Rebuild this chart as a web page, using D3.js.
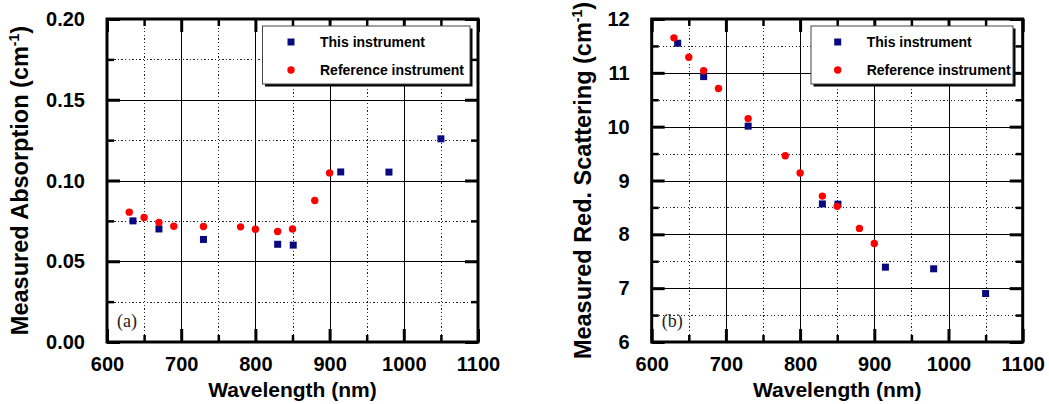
<!DOCTYPE html>
<html>
<head>
<meta charset="utf-8">
<script src="https://cdn.jsdelivr.net/npm/d3@7"></script>
<style>
  html, body { margin: 0; padding: 0; background: #fff; }
  svg { display: block; }
  .lbl { font-family: "Liberation Sans", Arial, sans-serif; font-weight: bold; fill: #000; }
</style>
</head>
<body>
<svg id="chart" width="1049" height="404"></svg>
<script>
// Wavelengths (nm) measured by each instrument
const waveThis = [635, 670, 730, 830, 851, 915, 980, 1050];
const waveRef  = [630, 650, 670, 690, 730, 780, 800, 830, 850, 880, 900];

// (a) absorption coefficient, cm^-1
const absThis = [0.075, 0.070, 0.0635, 0.0605, 0.060, 0.1053, 0.1052, 0.1258];
const absRef  = [0.0804, 0.0771, 0.0740, 0.0717, 0.0715, 0.0713, 0.0698, 0.0684, 0.0700, 0.0876, 0.1047];

// (b) reduced scattering coefficient, cm^-1
const scatThis = [11.55, 10.93, 10.01, 8.565, 8.56, 7.39, 7.36, 6.90];
const scatRef  = [11.65, 11.29, 11.04, 10.71, 10.15, 9.46, 9.14, 8.71, 8.52, 8.11, 7.83];

// Axis ticks
const xMajor = [600, 700, 800, 900, 1000, 1100];
const xMinor = [650, 750, 850, 950, 1050];
const absMajor = [0.00, 0.05, 0.10, 0.15, 0.20];
const absMinor = [0.025, 0.075, 0.125, 0.175];
const scatMajor = [6, 7, 8, 9, 10, 11, 12];
const scatMinor = [6.5, 7.5, 8.5, 9.5, 10.5, 11.5];

const seriesNames = ["This instrument", "Reference instrument"];
const navy = "#0a0a80", red = "#ff0000";

const svg = d3.select("#chart");

function panel(opt) {
  const x = d3.scaleLinear().domain([600, 1100]).range([opt.left, opt.right]);
  const y = d3.scaleLinear().domain(opt.yDomain).range([342, 19]);
  const W = opt.right - opt.left, H = 342 - 19;
  const g = svg.append("g");

  // grid: solid at major ticks, dotted at minor ticks
  const grid = (axis, vals, dash, tr) => {
    const gg = g.append("g").attr("transform", tr).call(axis.tickValues(vals).tickFormat(""));
    gg.select(".domain").remove();
    gg.selectAll(".tick line").attr("stroke", dash ? "#222" : "#000")
      .attr("stroke-width", 1).attr("shape-rendering", "crispEdges")
      .attr("stroke-dasharray", dash ? "1.3,2.3" : null);
  };
  grid(d3.axisBottom(x).tickSize(-H), xMajor.slice(1, -1), false, `translate(0,342)`);
  grid(d3.axisBottom(x).tickSize(-H), xMinor, true, `translate(0,342)`);
  grid(d3.axisLeft(y).tickSize(-W), opt.yMajor.slice(1, -1), false, `translate(${opt.left},0)`);
  grid(d3.axisLeft(y).tickSize(-W), opt.yMinor, true, `translate(${opt.left},0)`);

  // inward ticks on all four sides
  const ticks = (axis, tr, len, wid) => {
    const gg = g.append("g").attr("transform", tr).call(axis.tickSize(-len));
    gg.select(".domain").remove();
    gg.selectAll(".tick line").attr("stroke", "#000").attr("stroke-width", wid);
    return gg;
  };
  const bx = ticks(d3.axisBottom(x).tickValues(xMajor).tickPadding(15).tickFormat(d3.format("d")),
    "translate(0,342)", 13, 3);
  bx.selectAll("text").attr("class", "lbl").attr("font-size", 20).attr("font-family", null);
  ticks(d3.axisBottom(x).tickValues(xMinor).tickFormat(""), "translate(0,342)", 7, 2.5);
  ticks(d3.axisTop(x).tickValues(xMajor).tickFormat(""), "translate(0,19)", 13, 3);
  ticks(d3.axisTop(x).tickValues(xMinor).tickFormat(""), "translate(0,19)", 7, 2.5);
  const ly = ticks(d3.axisLeft(y).tickValues(opt.yMajor).tickPadding(22).tickFormat(opt.fmt),
    `translate(${opt.left},0)`, 13, 3);
  ly.selectAll("text").attr("class", "lbl").attr("font-size", 20).attr("font-family", null)
    .attr("dy", "0.33em");
  ticks(d3.axisLeft(y).tickValues(opt.yMinor).tickFormat(""), `translate(${opt.left},0)`, 7, 2.5);
  ticks(d3.axisRight(y).tickValues(opt.yMajor).tickFormat(""), `translate(${opt.right},0)`, 13, 3);
  ticks(d3.axisRight(y).tickValues(opt.yMinor).tickFormat(""), `translate(${opt.right},0)`, 7, 2.5);
  g.selectAll(".tick text").filter(function () { return this.textContent === ""; }).remove();

  // frame
  g.append("rect").attr("x", opt.left).attr("y", 19).attr("width", W).attr("height", H)
    .attr("fill", "none").attr("stroke", "#000").attr("stroke-width", 3);

  // legend
  const lg = g.append("g").attr("transform", `translate(${opt.legX},26)`);
  lg.append("rect").attr("x", 2.5).attr("y", 2.5).attr("width", opt.legW).attr("height", 58)
    .attr("fill", "#000");
  lg.append("rect").attr("x", 0).attr("y", 0).attr("width", opt.legW).attr("height", 58)
    .attr("fill", "#fff").attr("stroke", "#444").attr("stroke-width", 1);
  lg.append("rect").attr("x", opt.legMark - 3.5).attr("y", 16 - 3.5).attr("width", 7).attr("height", 7)
    .attr("fill", navy);
  lg.append("circle").attr("cx", opt.legMark).attr("cy", 44).attr("r", 3.7).attr("fill", red);
  lg.selectAll("text.leg").data(seriesNames).join("text")
    .attr("class", "lbl leg").attr("font-size", 14)
    .attr("x", opt.legText).attr("y", (d, i) => 21 + i * 28).text(d => d);

  // data: this instrument (squares), reference (circles) on top
  g.append("g").selectAll("rect").data(d3.zip(waveThis, opt.thisVals)).join("rect")
    .attr("x", d => x(d[0]) - 3.5).attr("y", d => y(d[1]) - 3.5)
    .attr("width", 7).attr("height", 7).attr("fill", navy);
  g.append("g").selectAll("circle").data(d3.zip(waveRef, opt.refVals)).join("circle")
    .attr("cx", d => x(d[0])).attr("cy", d => y(d[1])).attr("r", 3.7).attr("fill", red);

  // panel tag
  g.append("text").attr("x", opt.left + 10).attr("y", 326.5)
    .attr("font-family", "'Liberation Serif', 'Times New Roman', serif").attr("font-size", 18)
    .attr("fill", "#222").text(opt.tag);

  // axis titles
  g.append("text").attr("class", "lbl").attr("font-size", 21).attr("text-anchor", "middle")
    .attr("x", (opt.left + opt.right) / 2).attr("y", 397).text("Wavelength (nm)");
  const yt = g.append("text").attr("class", "lbl").attr("font-size", 23.5).attr("text-anchor", "middle")
    .attr("transform", `translate(${opt.titleX},180.5) rotate(-90)`);
  yt.append("tspan").text(opt.yTitle + " (cm");
  yt.append("tspan").attr("font-size", 14).attr("dy", -9).text("-1");
  yt.append("tspan").attr("dy", 9).text(")");
}

panel({
  left: 107, right: 478, yDomain: [0, 0.2], yMajor: absMajor, yMinor: absMinor,
  fmt: d3.format(".2f"), thisVals: absThis, refVals: absRef, tag: "(a)",
  legX: 262.5, legW: 207.5, legMark: 28.5, legText: 57.5,
  titleX: 28, yTitle: "Measured Absorption"
});
panel({
  left: 651.7, right: 1022.7, yDomain: [6, 12], yMajor: scatMajor, yMinor: scatMinor,
  fmt: d3.format("d"), thisVals: scatThis, refVals: scatRef, tag: "(b)",
  legX: 811, legW: 202, legMark: 26.7, legText: 55.7,
  titleX: 591, yTitle: "Measured Red. Scattering"
});
</script>
</body>
</html>
